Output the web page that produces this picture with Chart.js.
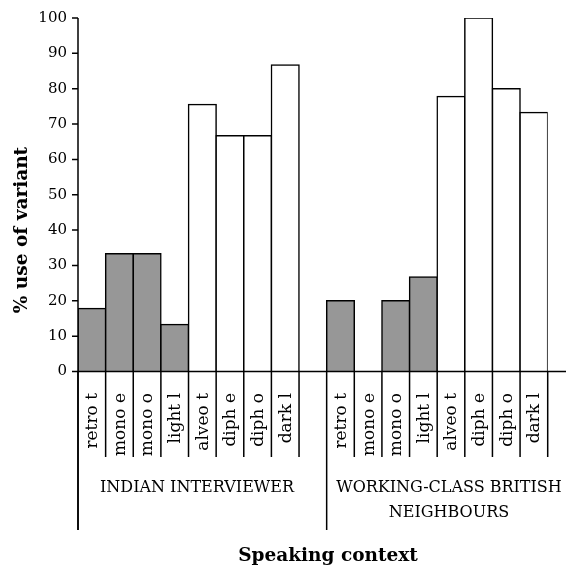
<!DOCTYPE html>
<html>
<head>
<meta charset="utf-8">
<script src="https://cdn.jsdelivr.net/npm/chart.js@4"></script>
<style>
  html, body { margin: 0; padding: 0; background: #fff; }
</style>
</head>
<body>
<canvas id="chart" width="566" height="569"></canvas>
<script>
// variants shown under each bar, same order in both speaking contexts
const categories = ['retro t', 'mono e', 'mono o', 'light l', 'alveo t', 'diph e', 'diph o', 'dark l'];
const groupLabels = [['INDIAN INTERVIEWER'], ['WORKING-CLASS BRITISH', 'NEIGHBOURS']];
const indianValues = [17.8, 33.3, 33.3, 13.3, 75.5, 66.7, 66.7, 86.7];
const britishValues = [20, 0, 20, 26.7, 77.8, 100, 80, 73.3];
const shaded = [true, true, true, true, false, false, false, false];
const yTicks = [0, 10, 20, 30, 40, 50, 60, 70, 80, 90, 100];

const SERIF = '"DejaVu Serif", "Liberation Serif", serif';

// one empty slot between the two groups
const labels = [...categories, '', ...categories];
const values = [...indianValues, null, ...britishValues];
const fills = [...shaded, false, ...shaded].map(s => s ? '#979797' : '#ffffff');

const axesPlugin = {
  id: 'paperAxes',
  afterDatasetsDraw(chart) {
    const { ctx, chartArea, scales } = chart;
    const x = scales.x, y = scales.y;
    const y0 = y.getPixelForValue(0);
    const w = x.getPixelForValue(1) - x.getPixelForValue(0);
    const tableBottom = 457;
    const groupBottom = 530;

    ctx.save();
    ctx.strokeStyle = '#000';
    ctx.fillStyle = '#000';
    ctx.lineWidth = 1.5;

    // y axis and ticks
    ctx.beginPath();
    ctx.moveTo(chartArea.left, y.getPixelForValue(100));
    ctx.lineTo(chartArea.left, groupBottom);
    yTicks.forEach(t => {
      const py = y.getPixelForValue(t);
      ctx.moveTo(chartArea.left - 6, py);
      ctx.lineTo(chartArea.left, py);
    });
    // x axis runs to the edge
    ctx.moveTo(chartArea.left, y0);
    ctx.lineTo(566, y0);
    ctx.stroke();

    ctx.font = '15px ' + SERIF;
    ctx.textAlign = 'right';
    ctx.textBaseline = 'middle';
    yTicks.forEach(t => ctx.fillText(String(t), chartArea.left - 11, y.getPixelForValue(t)));

    // label table under each group
    [0, 1].forEach(g => {
      const start = g * (categories.length + 1);
      const leftEdge = x.getPixelForValue(start) - w / 2;
      ctx.beginPath();
      for (let k = 0; k <= categories.length; k++) {
        const px = leftEdge + k * w;
        ctx.moveTo(px, y0);
        ctx.lineTo(px, k === 0 ? groupBottom : tableBottom);
      }
      ctx.stroke();

      ctx.font = '17px ' + SERIF;
      categories.forEach((c, i) => {
        const px = x.getPixelForValue(start + i);
        ctx.save();
        ctx.translate(px, 393);
        ctx.rotate(-Math.PI / 2);
        ctx.textAlign = 'right';
        ctx.textBaseline = 'middle';
        ctx.fillText(c, 0, 1);
        ctx.restore();
      });
    });

    ctx.font = '16px ' + SERIF;
    ctx.textAlign = 'center';
    ctx.textBaseline = 'middle';
    ctx.fillText(groupLabels[0][0], 197, 488);
    groupLabels[1].forEach((line, i) => ctx.fillText(line, 449, 488 + i * 25));

    // axis titles
    ctx.font = 'bold 18.5px ' + SERIF;
    ctx.fillText('Speaking context', 328, 556);
    ctx.save();
    ctx.translate(22, 230);
    ctx.rotate(-Math.PI / 2);
    ctx.font = 'bold 18.5px ' + SERIF;
    ctx.fillText('% use of variant', 0, 0);
    ctx.restore();

    ctx.restore();
  }
};

new Chart(document.getElementById('chart'), {
  type: 'bar',
  data: {
    labels: labels,
    datasets: [{
      data: values,
      backgroundColor: fills,
      borderColor: '#000',
      borderWidth: 1.5,
      inflateAmount: 0.75,
      borderSkipped: 'start',
      barPercentage: 1,
      categoryPercentage: 1
    }]
  },
  options: {
    responsive: false,
    animation: false,
    layout: { padding: { left: 78, top: 18, right: 18.3, bottom: 197.5 } },
    scales: {
      x: { display: false },
      y: { display: false, min: 0, max: 100 }
    },
    plugins: {
      legend: { display: false },
      tooltip: { enabled: false }
    }
  },
  plugins: [axesPlugin]
});
</script>
</body>
</html>
